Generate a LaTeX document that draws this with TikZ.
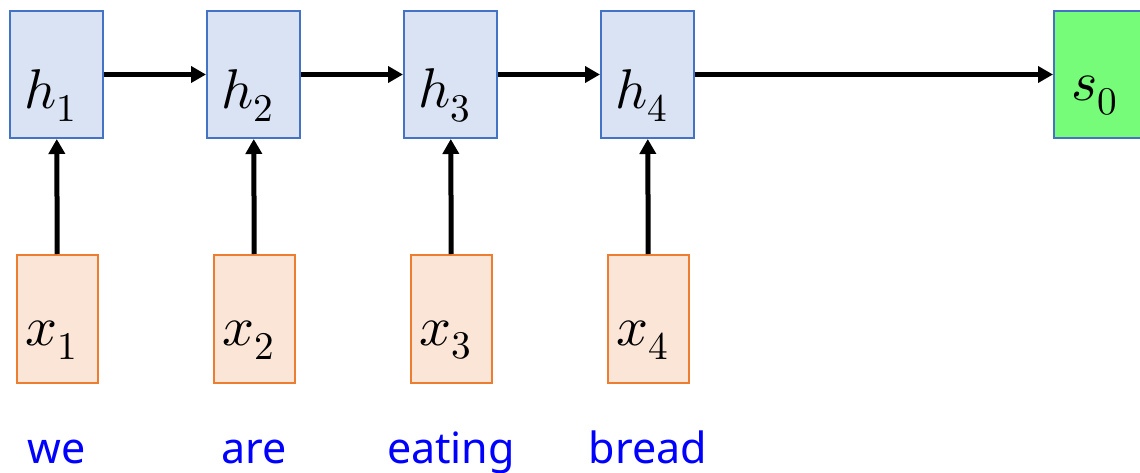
\documentclass[tikz,border=0pt]{standalone}
\usepackage{fontspec}
\usepackage{unicode-math}
\setmathfont{Latin Modern Math}
\newfontfamily\wordfont{Noto Sans}
\usetikzlibrary{arrows.meta,positioning}
\definecolor{hfill}{HTML}{DAE3F3}
\definecolor{hdraw}{HTML}{4472C4}
\definecolor{xfill}{HTML}{FBE5D6}
\definecolor{xdraw}{HTML}{ED7D31}
\definecolor{sfill}{HTML}{77FC7A}
\definecolor{wordblue}{RGB}{0,0,255}

\begin{document}
\begin{tikzpicture}[x=1pt, y=1pt,
    hcell/.style={rectangle, draw=hdraw, fill=hfill, line width=2pt, minimum width=93pt, minimum height=127pt, inner sep=0pt},
    xcell/.style={rectangle, draw=xdraw, fill=xfill, line width=2pt, minimum width=81pt, minimum height=128pt, inner sep=0pt},
    scell/.style={rectangle, draw=hdraw, fill=sfill, line width=2pt, minimum width=93pt, minimum height=127pt, inner sep=0pt},
    var/.style={anchor=base, inner sep=0pt, xshift=-6pt, yshift=-21pt, font=\fontsize{56}{60}\selectfont},
    word/.style={anchor=base, inner sep=0pt, text=wordblue, font=\wordfont\fontsize{43}{48}\selectfont},
    arrow/.style={->, >={Triangle[length=15pt, width=16pt]}, line width=5pt}
]
\useasboundingbox (0,0) rectangle (1140,472);

% Hidden states
\node[hcell, label={[var]center:$h_1$}] (h1) at (56.5,397.5) {};
\node[hcell, label={[var]center:$h_2$}] (h2) at (253.5,397.5) {};
\node[hcell, label={[var]center:$h_3$}] (h3) at (450.5,397.5) {};
\node[hcell, label={[var]center:$h_4$}] (h4) at (647.5,397.5) {};

% Decoder state
\node[scell, label={[var]center:$s_0$}] (s0) at (1100.5,397.5) {};

% Inputs
\node[xcell, label={[var]center:$x_1$}] (x1) at (57.5,153) {};
\node[xcell, label={[var]center:$x_2$}] (x2) at (254.5,153) {};
\node[xcell, label={[var]center:$x_3$}] (x3) at (451.5,153) {};
\node[xcell, label={[var]center:$x_4$}] (x4) at (648.5,153) {};

% Words
\node[word] (w1) at (57,9) {we};
\node[word] (w2) at (254,9) {are};
\node[word] (w3) at (451,9) {eating};
\node[word] (w4) at (648,9) {bread};

% Connections
\draw[arrow] (h1) -- (h2);
\draw[arrow] (h2) -- (h3);
\draw[arrow] (h3) -- (h4);
\draw[arrow] (h4) -- (s0);
\draw[arrow] (x1) -- (h1);
\draw[arrow] (x2) -- (h2);
\draw[arrow] (x3) -- (h3);
\draw[arrow] (x4) -- (h4);

\end{tikzpicture}
\end{document}
